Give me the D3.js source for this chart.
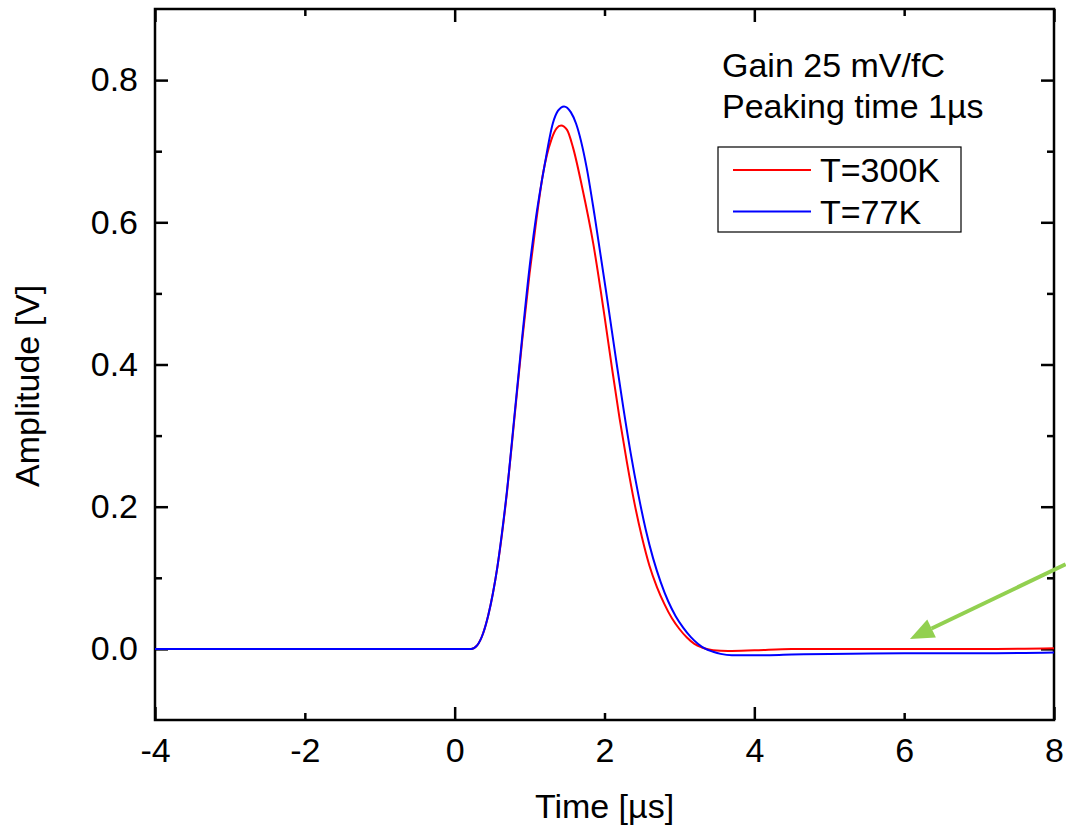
<!DOCTYPE html>
<html>
<head>
<meta charset="utf-8">
<script src="https://cdn.jsdelivr.net/npm/d3@7"></script>
<style>
  body { margin: 0; background: #fff; }
  svg { font-family: "Liberation Sans", Arial, sans-serif; }
</style>
</head>
<body>
<svg id="chart" width="1066" height="827"></svg>
<script>
// T = 300K trace
const t300 = [-4, -3, -2, -1, 0, 0.22, 0.30, 0.38, 0.45, 0.51, 0.57, 0.63, 0.70, 0.80, 0.90, 1.00, 1.09, 1.18, 1.29, 1.36, 1.42,
  1.50, 1.58, 1.70, 1.85, 2.00, 2.10, 2.20, 2.30, 2.40, 2.50, 2.60, 2.70, 2.80, 2.90, 3.00, 3.10, 3.20, 3.30, 3.45, 3.65, 4.0, 4.5, 5.0, 6.0, 7.0, 8.0];
const a300 = [0, 0, 0, 0, 0, 0, 0.005, 0.022, 0.048, 0.078, 0.115, 0.160, 0.222, 0.327, 0.432, 0.528, 0.603, 0.669, 0.716, 0.732, 0.736,
  0.730, 0.705, 0.650, 0.570, 0.468, 0.395, 0.325, 0.262, 0.205, 0.157, 0.117, 0.087, 0.063, 0.043, 0.028, 0.016, 0.007, 0.002, -0.002, -0.003, -0.002, 0, 0, 0, 0, 0.001];

// T = 77K trace
const t77 = [-4, -3, -2, -1, 0, 0.22, 0.30, 0.38, 0.45, 0.51, 0.57, 0.63, 0.70, 0.80, 0.90, 1.00, 1.09, 1.20, 1.31, 1.38, 1.46,
  1.55, 1.62, 1.76, 1.87, 2.05, 2.15, 2.25, 2.35, 2.45, 2.55, 2.65, 2.75, 2.85, 2.95, 3.05, 3.15, 3.25, 3.35, 3.45, 3.55, 3.70, 4.0, 4.5, 5.0, 6.0, 7.0, 8.0];
const a77 = [0, 0, 0, 0, 0, 0, 0.005, 0.022, 0.048, 0.078, 0.115, 0.162, 0.224, 0.330, 0.437, 0.537, 0.610, 0.680, 0.739, 0.757, 0.763,
  0.755, 0.739, 0.678, 0.608, 0.482, 0.410, 0.340, 0.275, 0.218, 0.168, 0.127, 0.094, 0.067, 0.046, 0.030, 0.017, 0.007, 0.000, -0.004, -0.007, -0.009, -0.009, -0.008, -0.007, -0.006, -0.006, -0.005];

const xLabels = [-4, -2, 0, 2, 4, 6, 8];
const xMajor = [-4, 0, 4, 8];
const yLabels = [0, 0.2, 0.4, 0.6, 0.8];
const yMinor = [0.1, 0.3, 0.5, 0.7];

const seriesNames = ["T=300K", "T=77K"];
const seriesColors = ["#ff0000", "#0000ff"];
const notes = ["Gain 25 mV/fC", "Peaking time 1\u00b5s"];

const margin = { top: 9, right: 12, bottom: 107, left: 155 };
const width = 1066 - margin.left - margin.right;
const height = 827 - margin.top - margin.bottom;

const svg = d3.select("#chart")
  .append("g")
  .attr("transform", `translate(${margin.left},${margin.top})`);

const x = d3.scaleLinear().domain([-4, 8]).range([0, width]);
const y = d3.scaleLinear().domain([-0.1, 0.9]).range([height, 0]);

const fontSize = 34;

// axes, ticks pointing inward
const xBottom = svg.append("g")
  .attr("transform", `translate(0,${height})`)
  .call(d3.axisBottom(x).tickValues(xLabels).tickSizeInner(-7).tickSizeOuter(0).tickPadding(18).tickFormat(d => String(d)));
const xTop = svg.append("g")
  .call(d3.axisTop(x).tickValues(xLabels).tickSizeInner(-7).tickSizeOuter(0).tickFormat(""));
const yLeft = svg.append("g")
  .call(d3.axisLeft(y).tickValues(yLabels.concat(yMinor)).tickSizeInner(-7).tickSizeOuter(0).tickPadding(17)
    .tickFormat(d => yMinor.includes(d) ? "" : d3.format(".1f")(d)));
const yRight = svg.append("g")
  .attr("transform", `translate(${width},0)`)
  .call(d3.axisRight(y).tickValues(yLabels.concat(yMinor)).tickSizeInner(-7).tickSizeOuter(0).tickFormat(""));

xBottom.selectAll(".tick line").attr("y2", d => xMajor.includes(d) ? -13 : -7);
xTop.selectAll(".tick line").attr("y2", d => xMajor.includes(d) ? 13 : 7);
yLeft.selectAll(".tick line").attr("x2", d => yMinor.includes(d) ? 7 : 13);
yRight.selectAll(".tick line").attr("x2", d => yMinor.includes(d) ? -7 : -13);

svg.selectAll(".domain").remove();
svg.selectAll(".tick line").attr("stroke", "#000").attr("stroke-width", 2.5);
svg.selectAll(".tick text")
  .attr("font-family", "Liberation Sans, Arial, sans-serif")
  .attr("font-size", fontSize)
  .attr("fill", "#000");

svg.append("rect")
  .attr("width", width)
  .attr("height", height)
  .attr("fill", "none")
  .attr("stroke", "#000")
  .attr("stroke-width", 2.5);

// traces
const line = d3.line()
  .x(d => x(d[0]))
  .y(d => y(d[1]))
  .curve(d3.curveMonotoneX);

const traces = [d3.zip(t300, a300), d3.zip(t77, a77)];

svg.selectAll(".trace")
  .data(traces)
  .enter().append("path")
  .attr("class", "trace")
  .attr("d", line)
  .attr("fill", "none")
  .attr("stroke", (d, i) => seriesColors[i])
  .attr("stroke-width", 2);

// axis titles
svg.append("text")
  .attr("x", x(2))
  .attr("y", height + 98)
  .attr("text-anchor", "middle")
  .attr("font-size", fontSize)
  .text("Time [\u00b5s]");

svg.append("text")
  .attr("transform", `translate(${39 - margin.left},${y(0.37)}) rotate(-90)`)
  .attr("text-anchor", "middle")
  .attr("font-size", fontSize)
  .text("Amplitude [V]");

// annotation text
svg.selectAll(".note")
  .data(notes)
  .enter().append("text")
  .attr("class", "note")
  .attr("x", 567)
  .attr("y", (d, i) => 68 + i * 41)
  .attr("font-size", fontSize)
  .text(d => d);

// legend
const legend = svg.append("g").attr("transform", "translate(563,138)");
legend.append("rect")
  .attr("width", 243)
  .attr("height", 85)
  .attr("fill", "#fff")
  .attr("stroke", "#000")
  .attr("stroke-width", 1.2);
seriesNames.forEach((name, i) => {
  legend.append("line")
    .attr("x1", 15).attr("x2", 93)
    .attr("y1", 23 + i * 41.5).attr("y2", 23 + i * 41.5)
    .attr("stroke", seriesColors[i])
    .attr("stroke-width", 2);
  legend.append("text")
    .attr("x", 102)
    .attr("y", 35 + i * 41.5)
    .attr("font-size", fontSize)
    .text(name);
});

// green arrow pointing at the baseline
const from = [x(8.155), y(0.119)];
const tip = [x(6.077), y(0.014)];
const ang = Math.atan2(tip[1] - from[1], tip[0] - from[0]);
const headLen = 24, headHalf = 10;
const base = [tip[0] - headLen * Math.cos(ang), tip[1] - headLen * Math.sin(ang)];
const arrow = svg.append("g");
arrow.append("line")
  .attr("x1", from[0]).attr("y1", from[1])
  .attr("x2", base[0]).attr("y2", base[1])
  .attr("stroke", "#92d050")
  .attr("stroke-width", 4);
arrow.append("polygon")
  .attr("points", [
    tip,
    [base[0] + headHalf * Math.sin(ang), base[1] - headHalf * Math.cos(ang)],
    [base[0] - headHalf * Math.sin(ang), base[1] + headHalf * Math.cos(ang)]
  ].map(p => p.join(",")).join(" "))
  .attr("fill", "#92d050");
</script>
</body>
</html>
